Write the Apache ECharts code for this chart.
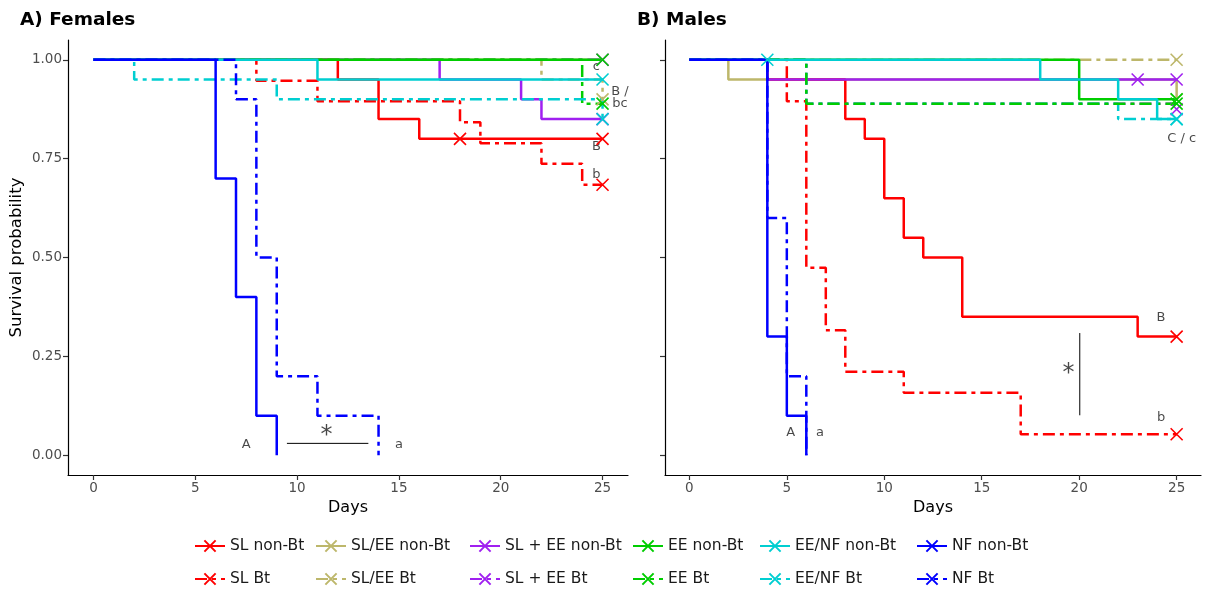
<!DOCTYPE html>
<html><head><meta charset="utf-8">
<script src="https://cdn.jsdelivr.net/npm/echarts@6/dist/echarts.min.js"></script>
<style>html,body{margin:0;padding:0;background:#fff}#c{width:1207px;height:591px}</style>
</head><body><div id="c"></div>
<script>
const groups = ['SL', 'SL/EE', 'SL + EE', 'EE', 'EE/NF', 'NF'];
const groupColors = ['#FF0000', '#BDB76B', '#A020F0', '#00CD00', '#00CED1', '#0000FF'];
const xTicks = [0, 5, 10, 15, 20, 25];
const yTicks = [0, 0.25, 0.5, 0.75, 1];

// Kaplan-Meier steps: [day, survival, censored flag]
// Females
const F_SL_nonBt = [[0,1],[12,0.95],[14,0.85],[16,0.8],[18,0.8,1],[25,0.8,1]];
const F_SL_Bt = [[0,1],[8,0.947],[11,0.895],[18,0.842],[19,0.789],[22,0.737],[24,0.684],[25,0.684,1]];
const F_SLEE_nonBt = [[0,1],[25,1,1]];
const F_SLEE_Bt = [[0,1],[22,0.95],[25,0.9,1]];
const F_SLpEE_nonBt = [[0,1],[17,0.95],[21,0.9],[22,0.85],[25,0.85,1]];
const F_SLpEE_Bt = [[0,1],[25,1,1]];
const F_EE_nonBt = [[0,1],[25,1,1]];
const F_EE_Bt = [[0,1],[24,0.889],[25,0.889,1]];
const F_EENF_nonBt = [[0,1],[11,0.95],[25,0.95,1]];
const F_EENF_Bt = [[0,1],[2,0.95],[9,0.9],[25,0.85,1]];
const F_NF_nonBt = [[0,1],[6,0.7],[7,0.4],[8,0.1],[9,0]];
const F_NF_Bt = [[0,1],[7,0.9],[8,0.5],[9,0.2],[11,0.1],[14,0]];
// Males
const M_SL_nonBt = [[0,1],[4,0.95],[8,0.85],[9,0.8],[10,0.65],[11,0.55],[12,0.5],[14,0.35],[23,0.3],[25,0.3,1]];
const M_SL_Bt = [[0,1],[5,0.895],[6,0.474],[7,0.316],[8,0.211],[11,0.158],[17,0.053],[25,0.053,1]];
const M_SLEE_nonBt = [[0,1],[2,0.95],[25,0.9,1]];
const M_SLEE_Bt = [[0,1],[25,1,1]];
const M_SLpEE_nonBt = [[0,1],[4,0.95],[23,0.95,1],[25,0.95,1]];
const M_SLpEE_Bt = [[0,1],[6,0.889],[25,0.875,1]];
const M_EE_nonBt = [[0,1],[20,0.9],[25,0.9,1]];
const M_EE_Bt = [[0,1],[6,0.889],[25,0.889,1]];
const M_EENF_nonBt = [[0,1],[4,1,1],[18,0.95],[22,0.9],[24,0.85],[25,0.85,1]];
const M_EENF_Bt = [[0,1],[6,0.889],[22,0.85],[25,0.85,1]];
const M_NF_nonBt = [[0,1],[4,0.3],[5,0.1],[6,0]];
const M_NF_Bt = [[0,1],[4,0.6],[5,0.2],[6,0]];

// Annotations: [text, day, survival]
const F_letters = [['c',24.7,0.982],['B /',25.85,0.919],['bc',25.85,0.889],['B',24.7,0.78],['b',24.7,0.709],['A',7.5,0.028],['a',15.0,0.028]];
const F_star = [['*',11.45,0.05]];
const F_bracket = [[9.5,0.03],[13.5,0.03]];
const M_letters = [['B',24.2,0.347],['b',24.2,0.094],['A',5.2,0.058],['a',6.7,0.058],['C / c',25.26,0.80]];
const M_star = [['*',19.45,0.205]];
const M_bracket = [[20.03,0.309],[20.03,0.101]];

const FONT = 'DejaVu Sans';
const XPATH = 'path://M0,0L10,10M0,10L10,0';
const DASH = [12, 5, 4, 5];

function lineSeries(group, bt, data, panel) {
  const gi = groups.indexOf(group);
  const color = groupColors[gi];
  return {
    type: 'line', name: group + (bt ? ' Bt' : ' non-Bt'),
    xAxisIndex: panel, yAxisIndex: panel, step: 'end',
    symbol: XPATH, symbolSize: 12, color: color,
    lineStyle: { width: 2.5, color: color, type: bt ? DASH : 'solid' },
    itemStyle: { color: color, borderColor: color, borderWidth: 1.6 },
    emphasis: { disabled: true }, silent: true,
    data: data.map(p => p[2] ? { value: [p[0], p[1]] } : { value: [p[0], p[1]], symbol: 'none' })
  };
}
function textSeries(items, panel, size) {
  return {
    type: 'scatter', xAxisIndex: panel, yAxisIndex: panel, symbolSize: 0, silent: true,
    label: { show: true, position: 'inside', formatter: p => p.data.name, color: '#1a1a1a', fontFamily: FONT, fontSize: size },
    data: items.map(d => ({ name: d[0], value: [d[1], d[2]] }))
  };
}
function bracketSeries(pts, panel) {
  return { type: 'line', xAxisIndex: panel, yAxisIndex: panel, symbol: 'none', silent: true,
    lineStyle: { color: '#000', width: 1 }, data: pts };
}

const series = [
  // Females (bottom to top)
  lineSeries('SL/EE', false, F_SLEE_nonBt, 0),
  lineSeries('SL + EE', true, F_SLpEE_Bt, 0),
  lineSeries('SL', false, F_SL_nonBt, 0),
  lineSeries('SL', true, F_SL_Bt, 0),
  lineSeries('SL + EE', false, F_SLpEE_nonBt, 0),
  lineSeries('SL/EE', true, F_SLEE_Bt, 0),
  lineSeries('EE', false, F_EE_nonBt, 0),
  lineSeries('EE', true, F_EE_Bt, 0),
  lineSeries('EE/NF', false, F_EENF_nonBt, 0),
  lineSeries('EE/NF', true, F_EENF_Bt, 0),
  lineSeries('NF', false, F_NF_nonBt, 0),
  lineSeries('NF', true, F_NF_Bt, 0),
  // Males
  lineSeries('SL + EE', true, M_SLpEE_Bt, 1),
  lineSeries('EE/NF', true, M_EENF_Bt, 1),
  lineSeries('SL/EE', false, M_SLEE_nonBt, 1),
  lineSeries('SL', false, M_SL_nonBt, 1),
  lineSeries('SL', true, M_SL_Bt, 1),
  lineSeries('SL/EE', true, M_SLEE_Bt, 1),
  lineSeries('SL + EE', false, M_SLpEE_nonBt, 1),
  lineSeries('EE', false, M_EE_nonBt, 1),
  lineSeries('EE', true, M_EE_Bt, 1),
  lineSeries('EE/NF', false, M_EENF_nonBt, 1),
  lineSeries('NF', false, M_NF_nonBt, 1),
  lineSeries('NF', true, M_NF_Bt, 1),
  textSeries(F_letters, 0, 13), textSeries(F_star, 0, 24), bracketSeries(F_bracket, 0),
  textSeries(M_letters, 1, 13), textSeries(M_star, 1, 24), bracketSeries(M_bracket, 1)
];

function xAxis(gi) {
  return {
    type: 'value', gridIndex: gi, min: -1.25, max: 26.25,
    name: 'Days', nameLocation: 'middle', nameGap: 19,
    nameTextStyle: { fontFamily: FONT, fontSize: 16, color: '#000' },
    axisLine: { onZero: false, lineStyle: { color: '#000', width: 1.2 } },
    axisTick: { show: true, length: 5, lineStyle: { color: '#333', width: 1.2 }, customValues: xTicks },
    axisLabel: { customValues: xTicks, fontFamily: FONT, fontSize: 13.5, color: '#4d4d4d', margin: 6 },
    splitLine: { show: false }
  };
}
function yAxis(gi, labels) {
  return {
    type: 'value', gridIndex: gi, min: -0.05, max: 1.05,
    name: labels ? 'Survival probability' : '', nameLocation: 'middle', nameGap: 43,
    nameTextStyle: { fontFamily: FONT, fontSize: 16.5, color: '#000' },
    axisLine: { show: true, onZero: false, lineStyle: { color: '#000', width: 1.2 } },
    axisTick: { show: true, length: 5, lineStyle: { color: '#333', width: 1.2 }, customValues: yTicks },
    axisLabel: { show: labels, customValues: yTicks, formatter: v => v.toFixed(2), fontFamily: FONT, fontSize: 13.5, color: '#4d4d4d', margin: 6 },
    splitLine: { show: false }
  };
}

const legendLefts = [194, 315, 469, 632, 759, 916];
const legends = groups.map((g, i) => ({
  orient: 'vertical', left: legendLefts[i], top: 537, height: 54, padding: 0,
  itemWidth: 30, itemHeight: 14, itemGap: 15, selectedMode: false,
  textStyle: { fontFamily: FONT, fontSize: 15.5, lineHeight: 18, color: '#1a1a1a' },
  data: [g + ' non-Bt', g + ' Bt']
}));

const chart = echarts.init(document.getElementById('c'), null, { renderer: 'canvas' });
chart.setOption({
  animation: false,
  backgroundColor: '#fff',
  title: [
    { text: 'A) Females', left: 20, top: 11, padding: 0, textStyle: { fontFamily: FONT, fontSize: 18.5, fontWeight: 'bold', color: '#000' } },
    { text: 'B) Males', left: 637, top: 11, padding: 0, textStyle: { fontFamily: FONT, fontSize: 18.5, fontWeight: 'bold', color: '#000' } }
  ],
  grid: [
    { left: 68, top: 40, width: 560, height: 435 },
    { left: 665, top: 40, width: 536, height: 435 }
  ],
  xAxis: [xAxis(0), xAxis(1)],
  yAxis: [yAxis(0, true), yAxis(1, false)],
  legend: legends,
  series: series
});
</script></body></html>
